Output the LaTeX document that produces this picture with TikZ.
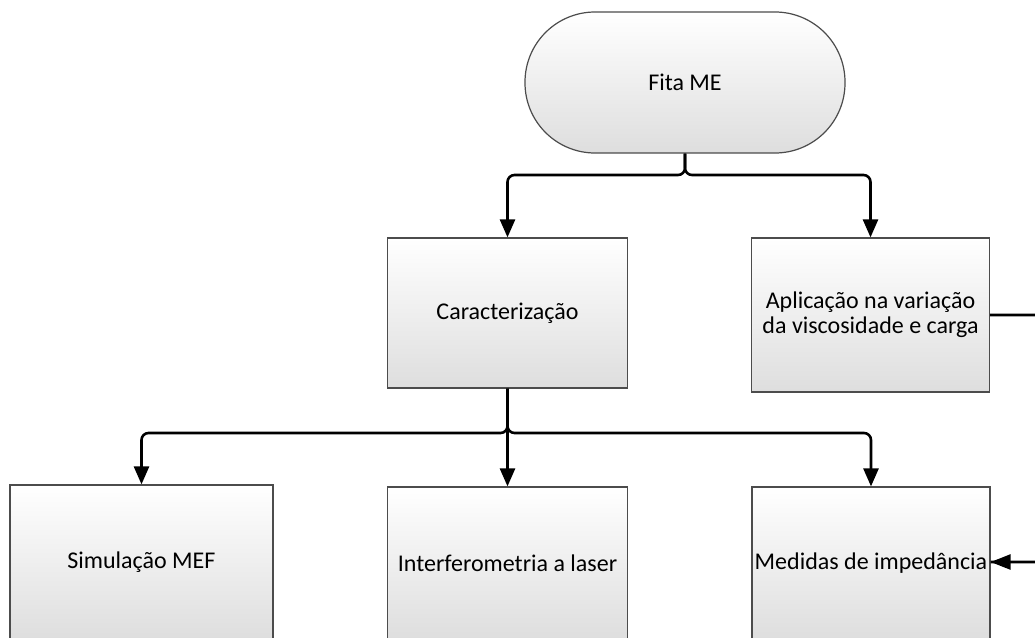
\documentclass[tikz,border=0pt]{standalone}
\usepackage{fontspec}
\setmainfont{Carlito}
\usetikzlibrary{arrows.meta}
\begin{document}
\begin{tikzpicture}[x=1pt,y=-1pt,
  box/.style={draw=black!70, line width=1.2pt, top color=white, bottom color=black!13,
    align=center, inner sep=2pt, font=\fontsize{24}{25}\selectfont},
  conn/.style={line width=2.6pt, rounded corners=7pt, -{Triangle[width=15pt,length=18pt]}},
  plainconn/.style={line width=2.6pt, rounded corners=7pt}]
\useasboundingbox (0,0) rectangle (1035,637);
\node[box, rounded corners=70pt, minimum width=320pt, minimum height=141pt] (fita) at (685,82.5) {Fita ME};
\node[box, minimum width=240pt, minimum height=150pt] (car) at (507.5,313) {Caracterização};
\node[box, minimum width=238pt, minimum height=154pt] (apl) at (870.5,315) {Aplicação na variação\\da viscosidade e carga};
\node[box, minimum width=263pt, minimum height=155pt] (sim) at (141.5,562.5) {Simulação MEF};
\node[box, minimum width=240pt, minimum height=152pt] (int) at (507.5,563) {Interferometria a laser};
\node[box, minimum width=238pt, minimum height=152pt] (med) at (871,563) {Medidas de impedância};
\coordinate (r1) at (1048,315);
\coordinate (r2) at (1048,562);
\coordinate (j1) at (685,175);
\coordinate (j2) at (507.5,433);
\draw[conn] (fita.south) -- (j1) -| (car.north);
\draw[conn] (fita.south) -- (j1) -| (apl.north);
\draw[conn] (car.south) -- (j2) -| (sim.north);
\draw[conn] (car.south) -- (j2) -| (med.north);
\draw[conn] (car.south) -- (j2) -- (int.north);
\draw[plainconn] (apl.east |- r1) -- (r1) -- (r2) -- (med.east |- r2);
\draw[line width=2.6pt, -{Triangle[width=15pt,length=20pt]}] (r2) -- (med.east |- r2);
\end{tikzpicture}
\end{document}
